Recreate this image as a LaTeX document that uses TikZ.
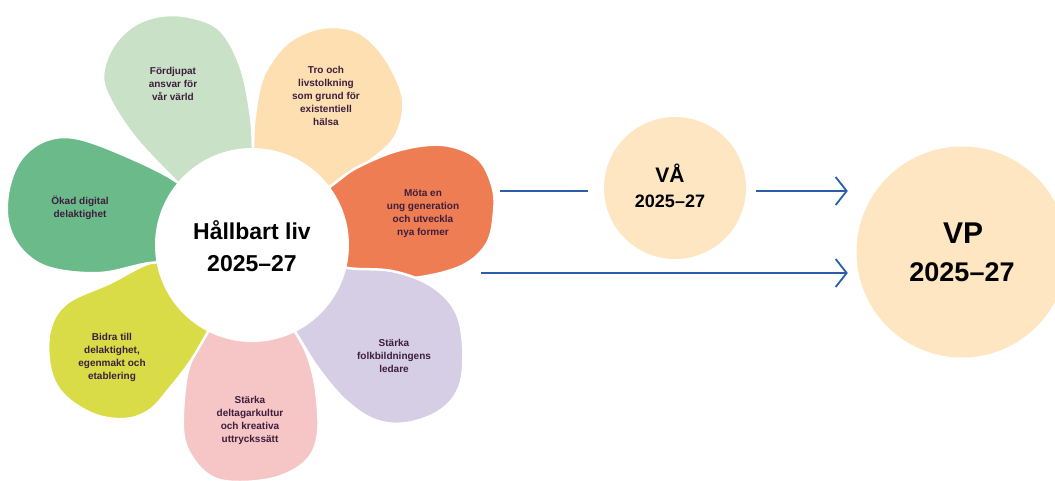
\documentclass[tikz,border=0pt]{standalone}
\usepackage{fontspec}
\setmainfont{Liberation Sans}
\usetikzlibrary{arrows.meta}
\definecolor{petLG}{HTML}{C9E2C7}
\definecolor{petPE}{HTML}{FDDFB2}
\definecolor{petOR}{HTML}{EF7D53}
\definecolor{petLA}{HTML}{D6CEE4}
\definecolor{petPI}{HTML}{F6C5C5}
\definecolor{petYE}{HTML}{DADC47}
\definecolor{petGR}{HTML}{6BBB8A}
\definecolor{txtP}{HTML}{3D1E3D}
\definecolor{cream}{HTML}{FDE6C1}
\definecolor{arrowblue}{HTML}{2A5EA8}
\tikzset{
  petal/.style={draw=white, line width=2.5pt, line join=round},
  ptext/.style={align=center, text=txtP, font=\bfseries\fontsize{10}{13}\selectfont, inner sep=0pt},
  bigtext/.style={anchor=base, text=black, inner sep=0pt},
  conn/.style={draw=arrowblue, line width=1.8pt},
  tipped/.style={-{Straight Barb[length=11pt,width=28pt]}}
}
\begin{document}
\begin{tikzpicture}[x=1pt,y=-1pt]
\useasboundingbox (0,0) rectangle (1055,480);
\clip (0,0) rectangle (1055,480);

% petals
\filldraw[petal, fill=petLG] plot[smooth, tension=0.6] coordinates {(200,205) (160,165) (133,135) (112,103) (103,77) (112,48) (133,26) (160,16) (190,17) (220,30) (240,65) (250,110) (253,150) (252,195)} -- (252,245) -- cycle;
\filldraw[petal, fill=petPE] plot[smooth, tension=0.6] coordinates {(252,195) (253,147) (255,115) (263,77) (283,47) (307,32) (333,27) (360,33) (383,55) (400,87) (403,112) (393,140) (367,163) (345,177) (325,190) (300,210)} -- (252,245) -- cycle;
\filldraw[petal, fill=petOR] plot[smooth, tension=0.6] coordinates {(300,210) (335,183) (358,167) (400,150) (443,145) (477,158) (492,185) (494,212) (486,245) (457,268) (400,279) (350,270) (310,258)} -- (252,245) -- cycle;
\filldraw[petal, fill=petLA] plot[smooth, tension=0.6] coordinates {(310,258) (348,268) (392,271) (430,285) (455,310) (463,345) (460,385) (441,410) (407,423) (375,420) (345,400) (318,368) (297,335) (280,310)} -- (252,245) -- cycle;
\filldraw[petal, fill=petPI] plot[smooth, tension=0.6] coordinates {(280,310) (297,335) (308,357) (316,390) (318,433) (307,460) (278,477) (240,482) (212,477) (192,457) (183,430) (186,380) (195,352) (205,335) (220,310)} -- (252,245) -- cycle;
\filldraw[petal, fill=petYE] plot[smooth, tension=0.6] coordinates {(220,310) (205,337) (190,362) (170,388) (150,410) (125,419) (93,414) (63,394) (50,367) (50,330) (67,303) (110,283) (153,262) (190,262)} -- (252,245) -- cycle;
\filldraw[petal, fill=petGR] plot[smooth, tension=0.6] coordinates {(190,262) (150,263) (100,273) (50,268) (22,250) (8,222) (9,188) (22,158) (47,140) (80,139) (135,160) (177,182) (200,205)} -- (252,245) -- cycle;

% petal texts
\node[ptext] (tLG) at (173,84) {Fördjupat\\ansvar för\\vår värld};
\node[ptext] (tPE) at (326,96) {Tro och\\livstolkning\\som grund för\\existentiell\\hälsa};
\node[ptext] (tOR) at (423,214) {Möta en\\ung generation\\och utveckla\\nya former};
\node[ptext] (tLA) at (394,356) {Stärka\\folkbildningens\\ledare};
\node[ptext] (tPI) at (250,420) {Stärka\\deltagarkultur\\och kreativa\\uttryckssätt};
\node[ptext] (tYE) at (112,357) {Bidra till\\delaktighet,\\egenmakt och\\etablering};
\node[ptext] (tGR) at (80,208) {Ökad digital\\delaktighet};

% hub
\node[circle, fill=white, minimum size=194pt, inner sep=0pt] (hub) at (252,245) {};
\node[bigtext, font=\bfseries\fontsize{23}{28}\selectfont] (hub1) at (252,239) {Hållbart liv};
\node[bigtext, font=\bfseries\fontsize{23}{28}\selectfont] (hub2) at (252,271) {2025–27};

% VÅ
\node[circle, fill=cream, minimum size=142pt, inner sep=0pt] (va) at (675,188) {};
\node[bigtext, font=\bfseries\fontsize{21}{25}\selectfont] (va1) at (670,182) {VÅ};
\node[bigtext, font=\bfseries\fontsize{18}{22}\selectfont] (va2) at (670,207) {2025–27};

% VP
\node[circle, fill=cream, minimum size=211pt, inner sep=0pt] (vp) at (962,252) {};
\node[bigtext, font=\bfseries\fontsize{30}{34}\selectfont] (vp1) at (963,243) {VP};
\node[bigtext, font=\bfseries\fontsize{27}{31}\selectfont] (vp2) at (962,281) {2025–27};

% connectors
\coordinate (a1) at (500,191);
\coordinate (a2) at (481,273);
\draw[conn, shorten >=16pt] (a1) -- (a1 -| va.west);
\draw[conn, tipped, shorten <=10pt, shorten >=8.5pt] (a1 -| va.east) -- (a1 -| vp.west);
\draw[conn, tipped, shorten >=8.5pt] (a2) -- (a2 -| vp.west);
\end{tikzpicture}
\end{document}
